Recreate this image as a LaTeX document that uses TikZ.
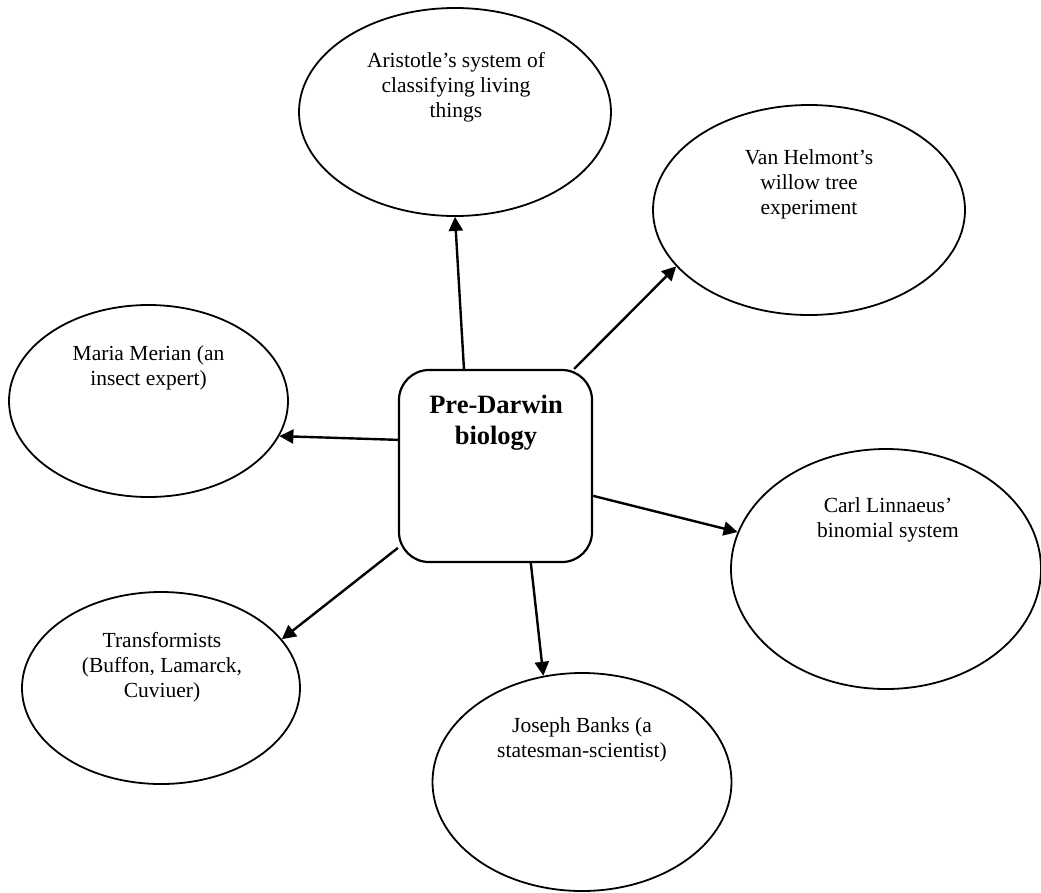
\documentclass[tikz,border=0pt]{standalone}
\usepackage{fontspec}
\setmainfont{Liberation Serif}
\usetikzlibrary{shapes.geometric,arrows.meta}
\begin{document}
\begin{tikzpicture}[x=1pt,y=-1pt,
  bubble/.style={ellipse,draw,line width=1.8pt,inner sep=0pt},
  hubbox/.style={rectangle,draw,rounded corners=30pt,line width=2.2pt,inner sep=0pt,
    minimum width=193pt,minimum height=192pt},
  txt/.style={anchor=north,align=center,inner sep=0pt,
    font=\fontsize{21.5}{25}\selectfont},
  hubtxt/.style={anchor=north,align=center,inner sep=0pt,
    font=\bfseries\fontsize{26.5}{31}\selectfont},
  arr/.style={-{Triangle[length=14pt,width=14pt]},line width=2.4pt}]
% page
\fill[white] (0,0) rectangle (1041,892);
\useasboundingbox (0,0) rectangle (1041,892);

% central topic
\node[hubbox] (hub) at (495.5,466) {};
\node[hubtxt] (hubt) at (496,391.3) {\strut Pre-Darwin\\biology};

% surrounding topics
\node[bubble,minimum width=312pt,minimum height=208pt] (aris) at (455,112) {};
\node[txt] (arist) at (456,49.5) {\strut Aristotle’s system of\\classifying living\\things};

\node[bubble,minimum width=312pt,minimum height=210pt] (vh) at (809,210) {};
\node[txt] (vht) at (809,146.5) {\strut Van Helmont’s\\willow tree\\experiment};

\node[bubble,minimum width=279pt,minimum height=192pt] (maria) at (148.5,401) {};
\node[txt] (mariat) at (148.5,342.5) {\strut Maria Merian (an\\insect expert)};

\node[bubble,minimum width=310pt,minimum height=240pt] (linn) at (886,569) {};
\node[txt] (linnt) at (888,494.5) {\strut Carl Linnaeus’\\binomial system};

\node[bubble,minimum width=278pt,minimum height=192pt] (trans) at (161,688) {};
\node[txt] (transt) at (162,629.5) {\strut Transformists\\(Buffon, Lamarck,\\Cuviuer)};

\node[bubble,minimum width=299pt,minimum height=218pt] (banks) at (582,782) {};
\node[txt] (bankst) at (582,714.5) {\strut Joseph Banks (a\\statesman-scientist)};

% connectors
\draw[arr] (hub.108.7) -- (aris.south);
\draw[arr] (hub.51.4) -- (vh.203.4);
\draw[arr] (hub.165.9) -- (maria.-15.1);
\draw[arr] (hub.-17.8) -- (linn.166.6);
\draw[arr] (hub.220.3) -- (trans.22.9);
\draw[arr] (hub.-70.8) -- (banks.110.6);
\end{tikzpicture}
\end{document}
